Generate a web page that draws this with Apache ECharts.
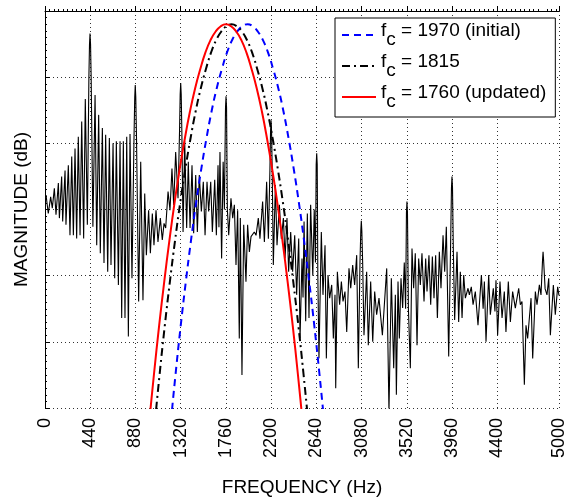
<!DOCTYPE html>
<html>
<head>
<meta charset="utf-8">
<title>spectrum</title>
<script src="https://cdn.jsdelivr.net/npm/echarts@6.0.0/dist/echarts.min.js"></script>
<style>
html, body { margin: 0; padding: 0; background: #fff; }
#spectrumChart { width: 565px; height: 497px; }
</style>
</head>
<body>
<div id="spectrumChart"></div>
<script>
var myChart;

// x轴刻度 (Hz)
var freqTicks = [0, 440, 880, 1320, 1760, 2200, 2640, 3080, 3520, 3960, 4400, 5000];

// 信号频谱 [Hz, dB]
var spectrum = [
	[10,-27.8],[32,-30.6],[55,-28.1],[71,-29.8],[91,-26.8],[107,-30.8],[130,-26.0],[140,-31.3],
	[162,-25.0],[172,-31.8],[195,-24.1],[204,-32.3],[227,-23.3],[243,-33.9],[260,-22.0],[276,-33.9],
	[292,-20.8],[308,-34.4],[324,-19.0],[341,-33.9],[357,-16.7],[376,-34.4],[392,-13.3],[412,-32.3],
	[427,-10.0],[433,-5.0],[438,-3.4],[443,-5.0],[449,-10.0],[466,-32.6],[487,-12.7],[503,-35.4],[522,-15.7],[538,-36.6],
	[558,-17.7],[574,-38.1],[590,-18.7],[610,-39.4],[626,-19.2],[642,-38.4],[662,-20.0],[678,-40.4],
	[694,-19.7],[714,-41.4],[730,-19.7],[746,-46.4],[762,-19.7],[778,-46.4],[795,-19.0],[811,-49.2],
	[827,-18.6],[846,-40.4],[866,-19.0],[873,-13.0],[878,-11.2],[883,-13.0],[890,-19.0],[911,-43.9],[931,-22.8],[953,-43.7],
	[970,-27.6],[986,-36.9],[1008,-30.1],[1025,-36.6],[1044,-30.6],[1060,-35.4],[1080,-30.1],[1099,-34.9],
	[1122,-31.3],[1141,-34.6],[1158,-32.1],[1174,-32.8],[1197,-27.3],[1216,-30.1],[1235,-23.8],[1252,-29.3],
	[1271,-21.3],[1294,-28.3],[1309,-18.0],[1315,-12.6],[1320,-10.9],[1325,-12.6],[1331,-18.0],[1343,-33.4],[1359,-19.7],[1378,-32.8],
	[1394,-22.8],[1411,-32.8],[1430,-23.3],[1446,-33.6],[1466,-24.8],[1482,-33.4],[1501,-24.8],[1521,-30.3],
	[1540,-25.8],[1557,-33.9],[1576,-25.8],[1592,-30.3],[1612,-25.8],[1628,-33.4],[1651,-25.5],[1667,-33.9],
	[1683,-23.3],[1692,-32.7],[1702,-21.3],[1718,-37.4],[1733,-22.8],[1745,-30.0],[1756,-14.6],[1761,-12.9],[1766,-14.6],[1774,-30.0],
	[1787,-33.9],[1809,-28.3],[1826,-31.3],[1842,-29.3],[1858,-38.4],[1874,-30.1],[1890,-49.5],[1900,-31.3],
	[1916,-55.0],[1933,-32.3],[1955,-40.9],[1971,-32.3],[1988,-36.4],[2004,-34.1],[2020,-34.4],[2036,-33.4],
	[2053,-33.9],[2075,-31.3],[2091,-34.4],[2117,-28.8],[2134,-34.9],[2156,-25.8],[2173,-34.4],[2188,-24.0],
	[2194,-18.2],[2199,-16.5],[2204,-18.2],[2210,-24.0],[2221,-38.4],[2241,-26.3],[2257,-35.4],[2280,-29.3],[2299,-34.4],[2319,-31.3],
	[2335,-37.4],[2354,-31.3],[2370,-39.4],[2390,-33.4],[2409,-39.4],[2429,-33.9],[2448,-42.9],[2468,-34.4],
	[2481,-49.5],[2500,-37.4],[2510,-43.3],[2520,-31.8],[2536,-46.9],[2552,-30.6],[2568,-46.4],[2584,-29.3],
	[2605,-40.0],[2619,-30.0],[2631,-38.0],[2638,-23.2],[2643,-21.5],[2648,-23.2],[2654,-40.0],[2665,-52.5],[2688,-33.4],[2704,-42.9],
	[2724,-35.4],[2737,-52.5],[2753,-39.9],[2769,-43.4],[2789,-41.4],[2805,-49.5],[2821,-42.9],[2828,-57.0],
	[2844,-39.4],[2866,-44.4],[2883,-40.9],[2899,-43.9],[2918,-42.4],[2935,-48.5],[2957,-38.9],[2974,-41.9],
	[2993,-38.4],[3012,-41.4],[3032,-36.9],[3048,-54.0],[3064,-38.0],[3072,-33.2],[3077,-31.7],[3082,-33.2],[3090,-38.0],[3103,-49.0],
	[3129,-39.4],[3145,-50.5],[3168,-40.9],[3188,-50.0],[3207,-42.4],[3226,-45.9],[3249,-43.4],[3282,-49.0],
	[3324,-38.9],[3346,-60.5],[3369,-40.4],[3392,-54.0],[3408,-42.9],[3418,-58.0],[3434,-40.9],[3447,-49.5],
	[3463,-40.4],[3479,-44.9],[3495,-38.0],[3508,-45.0],[3516,-30.5],[3521,-28.8],[3526,-30.5],[3535,-45.0],[3554,-54.0],[3570,-35.9],
	[3586,-41.9],[3602,-36.6],[3619,-50.5],[3635,-37.4],[3651,-41.4],[3667,-36.6],[3687,-43.9],[3703,-37.4],
	[3716,-42.4],[3735,-36.9],[3752,-44.4],[3768,-37.1],[3784,-43.4],[3800,-36.9],[3817,-46.4],[3836,-36.4],
	[3852,-41.9],[3872,-33.9],[3888,-39.4],[3904,-32.6],[3927,-52.2],[3945,-36.0],[3954,-26.7],[3959,-25.0],[3964,-26.7],[3972,-36.0],
	[3985,-46.7],[4008,-36.4],[4024,-47.0],[4040,-39.4],[4057,-46.4],[4073,-39.9],[4089,-43.4],[4115,-41.9],
	[4128,-42.9],[4147,-41.7],[4164,-44.4],[4186,-42.4],[4212,-47.5],[4245,-39.9],[4262,-45.0],[4274,-40.9],
	[4290,-50.0],[4316,-39.9],[4332,-45.9],[4361,-41.9],[4377,-45.4],[4387,-40.7],[4403,-49.0],[4426,-40.9],
	[4446,-46.4],[4468,-42.4],[4484,-48.5],[4507,-40.9],[4527,-47.0],[4549,-42.4],[4575,-44.9],[4608,-41.9],
	[4624,-44.4],[4640,-43.9],[4663,-56.5],[4679,-47.5],[4695,-49.5],[4728,-43.4],[4744,-52.5],[4770,-42.4],
	[4786,-44.4],[4809,-41.4],[4825,-42.9],[4840,-37.6],[4845,-36.4],[4850,-37.6],[4865,-42.0],[4883,-42.9],[4900,-40.4],[4916,-49.0],
	[4945,-41.4],[4964,-45.9],[4987,-41.7],[5000,-43.0]
];

// 滤波器曲线频率 (Hz)
var freqInitial = [1170,1220,1270,1320,1370,1420,1470,1520,1570,1620,1670,1720,1770,1820,1870,1920,1970,
	2020,2070,2120,2170,2220,2270,2320,2370,2420,2470,2520,2570,2620,2670,2720,2770];
var freq1815 = [1015,1065,1115,1165,1215,1265,1315,1365,1415,1465,1515,1565,1615,1665,1715,1765,1815,
	1865,1915,1965,2015,2065,2115,2165,2215,2265,2315,2365,2415,2465,2515,2565,2615];
var freqUpdated = [960,1010,1060,1110,1160,1210,1260,1310,1360,1410,1460,1510,1560,1610,1660,1710,1760,
	1810,1860,1910,1960,2010,2060,2110,2160,2210,2260,2310,2360,2410,2460,2510,2560];
// 滤波器幅度 (dB)
var filterDb = [-71.1,-62.8,-54.9,-47.6,-40.9,-34.7,-29.0,-23.9,-19.3,-15.2,-11.7,-8.8,-6.3,-4.4,-3.1,-2.3,-2.0,
	-2.3,-3.1,-4.4,-6.3,-8.8,-11.7,-15.2,-19.3,-23.9,-29.0,-34.7,-40.9,-47.6,-54.9,-62.8,-71.1];

var legendNames = ['fc = 1970 (initial)', 'fc = 1815', 'fc = 1760 (updated)'];

var fontName = 'Liberation Sans, Arial, Helvetica, sans-serif';

function pairs(xs, ys) {
	var out = [];
	for (var i = 0; i < xs.length; i++) {
		out.push([xs[i], ys[i]]);
	}
	return out;
}

// 图例文字: f 下标 c
function legendFormatter(name) {
	var rest = name.substring(2);
	return '{f|f}{c|c}{t|' + rest + '}';
}

function chartInit() {
	myChart = echarts.init(document.getElementById('spectrumChart'), null, { renderer: 'canvas' });
	var option = {
		animation: false,
		backgroundColor: '#fff',
		grid: {
			left: 45,
			right: 6,
			top: 11,
			bottom: 89,
			outerBoundsMode: 'none'
		},
		legend: {
			data: legendNames,
			orient: 'vertical',
			left: 335,
			top: 18,
			selectedMode: false,
			backgroundColor: '#fff',
			borderColor: '#000',
			borderWidth: 1,
			padding: [3, 9, 6, 6],
			itemGap: 3,
			itemWidth: 34,
			itemHeight: 10,
			itemStyle: { opacity: 0 },
			formatter: legendFormatter,
			textStyle: {
				color: '#000',
				fontFamily: fontName,
				fontSize: 19,
				rich: {
					f: { fontFamily: fontName, fontSize: 19, color: '#000', lineHeight: 22, padding: [0, 0, 9, 0] },
					c: { fontFamily: fontName, fontSize: 19, color: '#000', lineHeight: 22, padding: [9, 0, 0, 0] },
					t: { fontFamily: fontName, fontSize: 19, color: '#000', lineHeight: 22, padding: [0, 0, 9, 0] }
				}
			}
		},
		xAxis: {
			type: 'value',
			min: 0,
			max: 5000,
			interval: 440,
			name: 'FREQUENCY (Hz)',
			nameLocation: 'middle',
			nameGap: 70,
			nameTextStyle: { color: '#000', fontFamily: fontName, fontSize: 19 },
			axisLine: { show: true, lineStyle: { color: '#000', width: 1 } },
			axisTick: { show: true, inside: true, length: 5, customValues: freqTicks, lineStyle: { color: '#000' } },
			minorTick: { show: true, splitNumber: 10, length: 2, lineStyle: { color: '#000' } },
			axisLabel: {
				show: true,
				customValues: freqTicks,
				rotate: 90,
				margin: 10,
				color: '#000',
				fontFamily: fontName,
				fontSize: 18,
				formatter: function(v) {
					return String(v);
				}
			},
			splitLine: { show: true, lineStyle: { color: '#333', width: 1, type: [1, 3] } }
		},
		yAxis: {
			type: 'value',
			min: -60,
			max: 0,
			interval: 10,
			name: 'MAGNITUDE (dB)',
			nameLocation: 'middle',
			nameGap: 14,
			nameTextStyle: { color: '#000', fontFamily: fontName, fontSize: 19 },
			axisLine: { show: true, lineStyle: { color: '#000', width: 1 } },
			axisTick: { show: true, inside: true, length: 5, lineStyle: { color: '#000' } },
			minorTick: { show: true, splitNumber: 10, length: 2, lineStyle: { color: '#000' } },
			axisLabel: { show: false },
			splitLine: { show: true, lineStyle: { color: '#333', width: 1, type: [1, 3] } }
		},
		series: [{
			name: 'spectrum',
			type: 'line',
			data: spectrum,
			symbol: 'none',
			clip: true,
			lineStyle: { color: '#000', width: 1.1 }
		}, {
			name: legendNames[0],
			type: 'line',
			data: pairs(freqInitial, filterDb),
			symbol: 'none',
			smooth: true,
			clip: true,
			itemStyle: { color: '#0000ff' },
			lineStyle: { color: '#0000ff', width: 2, type: [7, 5] }
		}, {
			name: legendNames[1],
			type: 'line',
			data: pairs(freq1815, filterDb),
			symbol: 'none',
			smooth: true,
			clip: true,
			itemStyle: { color: '#000' },
			lineStyle: { color: '#000', width: 2, type: [8, 4, 2, 4] }
		}, {
			name: legendNames[2],
			type: 'line',
			data: pairs(freqUpdated, filterDb),
			symbol: 'none',
			smooth: true,
			clip: true,
			itemStyle: { color: '#ff0000' },
			lineStyle: { color: '#ff0000', width: 2 }
		}]
	};
	myChart.setOption(option);
}

chartInit();
</script>
</body>
</html>
